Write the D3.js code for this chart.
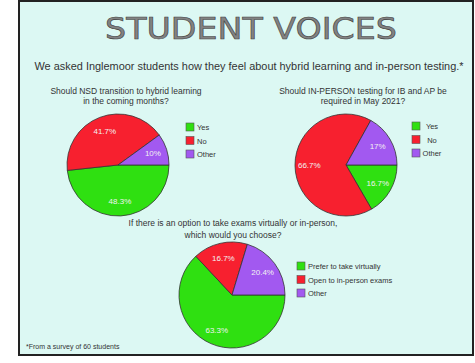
<!DOCTYPE html>
<html><head><meta charset="utf-8">
<script src="https://cdn.jsdelivr.net/npm/d3@7"></script>
<style>body{margin:0;background:#fff}svg{display:block}</style>
</head><body>
<script>
// ---- data ----
const pie1Categories = ["Yes", "No", "Other"];
const pie1Values = [48.3, 41.7, 10];
const pie1Labels = ["48.3%", "41.7%", "10%"];
const pie1Title = ["Should NSD transition to hybrid learning", "in the coming months?"];

const pie2Categories = ["Yes", "No", "Other"];
const pie2Values = [16.7, 66.7, 17];
const pie2Labels = ["16.7%", "66.7%", "17%"];
const pie2Title = ["Should IN-PERSON testing for IB and AP be", "required in May 2021?"];

const pie3Categories = ["Prefer to take virtually", "Open to in-person exams", "Other"];
const pie3Values = [63.3, 16.7, 20.4];
const pie3Labels = ["63.3%", "16.7%", "20.4%"];
const pie3Title = ["If there is an option to take exams virtually or in-person,", "which would you choose?"];

const mainTitle = "STUDENT VOICES";
const subTitle = "We asked Inglemoor students how they feel about hybrid learning and in-person testing.*";
const footNote = "*From a survey of 60 students";

// ---- style ----
const W = 475, H = 363;
const colors = ["#2fe011", "#f7202f", "#a259f0"];
const txt = "#333";
const font = "Liberation Sans, Arial";
const svg = d3.select("body").append("svg").attr("width", W).attr("height", H);

svg.append("rect").attr("x", 19).attr("y", 1).attr("width", 454).attr("height", 354)
  .attr("fill", "#dcf8f3").attr("stroke", "#222").attr("stroke-width", 2);

function fitText(sel, width) {
  sel.attr("textLength", width).attr("lengthAdjust", "spacingAndGlyphs");
}

svg.append("text").attr("x", 251).attr("y", 39).attr("text-anchor", "middle")
  .attr("font-family", "DejaVu Sans").attr("font-size", 30)
  .attr("fill", "#828282").attr("stroke", "#404040").attr("stroke-width", 0.6)
  .text(mainTitle).call(fitText, 292);

svg.append("text").attr("x", 249).attr("y", 70).attr("text-anchor", "middle")
  .attr("font-family", font).attr("font-size", 10.5).attr("fill", txt)
  .text(subTitle).call(fitText, 429);

svg.append("text").attr("x", 26).attr("y", 349)
  .attr("font-family", font).attr("font-size", 7).attr("fill", txt)
  .text(footNote);

function drawPie(cfg) {
  const g = svg.append("g");
  const pie = d3.pie().sort(null).startAngle(Math.PI / 2).endAngle(Math.PI / 2 + 2 * Math.PI);
  const arcs = pie(cfg.values);
  const arc = d3.arc().innerRadius(0).outerRadius(cfg.r);
  const pg = g.append("g").attr("transform", `translate(${cfg.cx},${cfg.cy})`);
  pg.selectAll("path").data(arcs).join("path")
    .attr("d", arc).attr("fill", (d, i) => colors[i])
    .attr("stroke", "#333").attr("stroke-width", 0.8);
  const la = d3.arc().innerRadius(cfg.r * cfg.lr).outerRadius(cfg.r * cfg.lr);
  pg.selectAll("text").data(arcs).join("text")
    .attr("transform", d => `translate(${la.centroid(d)})`)
    .attr("text-anchor", "middle").attr("dy", "0.35em")
    .attr("font-family", font).attr("font-size", 8)
    .attr("fill", "#f2f2f2").text((d, i) => cfg.labels[i]);

  cfg.title.forEach((t, i) => {
    g.append("text").attr("x", cfg.tx).attr("y", cfg.ty + i * cfg.tl).attr("text-anchor", "middle")
      .attr("font-family", font).attr("font-size", 8.5).attr("fill", txt).text(t);
  });

  const lg = g.append("g").attr("transform", `translate(${cfg.lx},${cfg.ly})`);
  cfg.cats.forEach((c, i) => {
    lg.append("rect").attr("x", 0).attr("y", i * 13.5).attr("width", 8).attr("height", 8)
      .attr("fill", colors[i]).attr("stroke", "#555").attr("stroke-width", 0.6);
    lg.append("text").attr("x", cfg.legAnchor === "middle" ? cfg.ltx : 11).attr("y", i * 13.5 + 7)
      .attr("text-anchor", cfg.legAnchor || "start")
      .attr("font-family", font).attr("font-size", 7.5).attr("fill", txt).text(c);
  });
}

drawPie({cx: 118, cy: 165, r: 51, lr: 0.72, values: pie1Values, labels: pie1Labels, title: pie1Title,
  tx: 126, ty: 94, tl: 10, cats: pie1Categories, lx: 186, ly: 123});
drawPie({cx: 346, cy: 165, r: 51, lr: 0.72, values: pie2Values, labels: pie2Labels, title: pie2Title,
  tx: 363, ty: 94, tl: 10, cats: pie2Categories, lx: 412, ly: 122, legAnchor: "middle", ltx: 20});
drawPie({cx: 232, cy: 295, r: 53, lr: 0.72, values: pie3Values, labels: pie3Labels, title: pie3Title,
  tx: 233, ty: 226, tl: 11.5, cats: pie3Categories, lx: 297, ly: 262});
</script>
</body></html>
